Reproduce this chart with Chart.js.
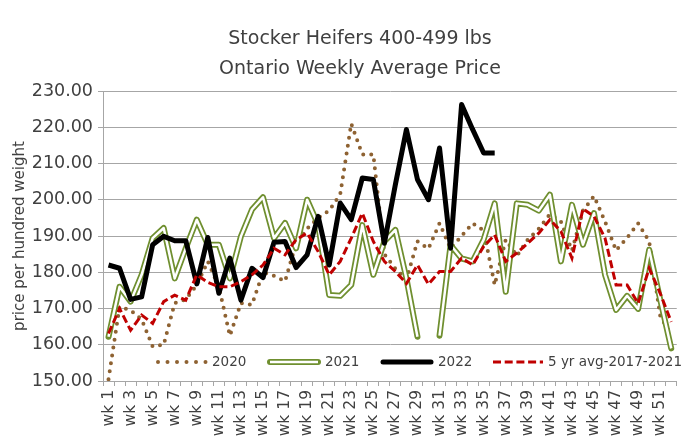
<!DOCTYPE html>
<html>
<head>
<meta charset="utf-8">
<script src="https://cdn.jsdelivr.net/npm/chart.js@4.4.0/dist/chart.umd.min.js"></script>
<style>
  html, body { margin: 0; padding: 0; background: #fff; }
  #chart { display: block; }
</style>
</head>
<body>
<canvas id="chart" width="694" height="447"></canvas>
<script>
// ── data ─────────────────────────────────────────────────────────────────
const weeks = [
  'wk 1', 'wk 2', 'wk 3', 'wk 4', 'wk 5', 'wk 6', 'wk 7', 'wk 8', 'wk 9', 'wk 10',
  'wk 11', 'wk 12', 'wk 13', 'wk 14', 'wk 15', 'wk 16', 'wk 17', 'wk 18', 'wk 19', 'wk 20',
  'wk 21', 'wk 22', 'wk 23', 'wk 24', 'wk 25', 'wk 26', 'wk 27', 'wk 28', 'wk 29', 'wk 30',
  'wk 31', 'wk 32', 'wk 33', 'wk 34', 'wk 35', 'wk 36', 'wk 37', 'wk 38', 'wk 39', 'wk 40',
  'wk 41', 'wk 42', 'wk 43', 'wk 44', 'wk 45', 'wk 46', 'wk 47', 'wk 48', 'wk 49', 'wk 50',
  'wk 51', 'wk 52',
];

const price2020 = [
  150.5, 170.5, 169.5, 167.0, 159.5, 160.0, 171.5, 172.5, 176.5, 183.0,
  176.0, 162.5, 171.5, 171.0, 180.0, 179.0, 177.5, 188.0, 192.0, 195.0,
  197.0, 201.5, 221.0, 212.5, 212.5, 185.0, 181.0, 178.0, 188.5, 186.5,
  193.5, 186.5, 190.0, 193.5, 191.5, 176.5, 189.0, 184.5, 189.0, 192.0,
  196.0, 194.0, 186.0, 197.0, 201.0, 194.0, 186.0, 189.5, 193.5, 188.5,
  168.0, 162.5,
];

const price2021 = [
  162.2, 176.0, 171.9, 179.3, 189.4, 192.2, 178.3, 186.6, 194.5, 187.6,
  187.6, 178.3, 189.9, 197.3, 200.7, 189.4, 193.6, 186.6, 200.0, 193.1,
  173.7, 173.5, 176.5, 193.0, 179.3, 188.5, 191.7, 178.3, 162.2, null,
  162.5, 187.5, 183.8, 183.0, 189.0, 199.0, 174.6, 199.0, 198.6, 197.0,
  201.4, 183.0, 198.6, 187.6, 196.3, 179.3, 169.6, 173.5, 169.9, 186.2,
  172.5, 159.0,
];

const price2022 = [
  182.0, 181.1, 172.5, 173.2, 187.6, 189.9, 188.7, 188.7, 176.8, 189.6,
  174.2, 183.9, 172.3, 181.1, 178.5, 188.3, 188.5, 181.3, 184.8, 195.4,
  182.0, 199.1, 194.5, 206.0, 205.6, 188.0, 204.2, 219.4, 205.6, 200.0,
  214.3, 186.6, 226.3, 219.4, 212.9, 212.9,
];

const avg5yr = [
  163.1, 170.0, 164.0, 168.2, 165.9, 171.9, 173.7, 172.3, 179.3, 177.2,
  176.0, 176.0, 177.4, 179.3, 182.0, 186.6, 184.8, 189.0, 190.8, 185.7,
  179.3, 183.0, 189.4, 196.3, 188.5, 183.0, 180.2, 176.9, 182.0, 176.7,
  180.2, 180.2, 183.9, 182.0, 187.1, 190.3, 183.0, 185.3, 188.0, 190.8,
  194.5, 191.3, 183.9, 197.5, 195.4, 189.4, 176.5, 176.5, 171.4, 181.1,
  174.2, 166.3,
];

const titleLines = ['Stocker Heifers 400-499 lbs', 'Ontario Weekly Average Price'];
const yTitle = 'price per hundred weight';

// ── styles ───────────────────────────────────────────────────────────────
const FONT   = '"DejaVu Sans", sans-serif';
const TEXT   = '#404040';
const GRID   = '#a6a6a6';
const BROWN  = '#8e6232';
const GREEN  = '#6f8f2f';
const RED    = '#c00000';

// title, y axis title and the in-plot legend are drawn by hand
const decorations = {
  id: 'decorations',
  afterDraw(chart) {
    const ctx = chart.ctx;
    ctx.save();
    ctx.fillStyle = TEXT;

    // title
    ctx.font = '19px ' + FONT;
    ctx.textAlign = 'center';
    ctx.textBaseline = 'alphabetic';
    ctx.fillText(titleLines[0], 360, 44);
    ctx.fillText(titleLines[1], 360, 74);

    // y axis title
    const a = chart.chartArea;
    ctx.save();
    ctx.translate(20, (a.top + a.bottom) / 2);
    ctx.rotate(-Math.PI / 2);
    ctx.font = '15px ' + FONT;
    ctx.textBaseline = 'middle';
    ctx.fillText(yTitle, 0, 0);
    ctx.restore();

    // legend
    const ly = 362;
    ctx.lineCap = 'round';
    ctx.lineJoin = 'round';

    ctx.strokeStyle = BROWN; ctx.lineWidth = 4; ctx.setLineDash([0, 9.5]);
    ctx.beginPath(); ctx.moveTo(158, ly); ctx.lineTo(206, ly); ctx.stroke();

    ctx.setLineDash([]);
    ctx.strokeStyle = GREEN; ctx.lineWidth = 6;
    ctx.beginPath(); ctx.moveTo(270, ly); ctx.lineTo(318, ly); ctx.stroke();
    ctx.lineCap = 'butt';
    ctx.strokeStyle = '#fff'; ctx.lineWidth = 2.5;
    ctx.beginPath(); ctx.moveTo(270, ly); ctx.lineTo(318, ly); ctx.stroke();

    ctx.lineCap = 'round';
    ctx.strokeStyle = '#000'; ctx.lineWidth = 5;
    ctx.beginPath(); ctx.moveTo(383, ly); ctx.lineTo(431, ly); ctx.stroke();

    ctx.lineCap = 'butt';
    ctx.strokeStyle = RED; ctx.lineWidth = 3; ctx.setLineDash([8, 3.7]);
    ctx.beginPath(); ctx.moveTo(493, ly); ctx.lineTo(543, ly); ctx.stroke();
    ctx.setLineDash([]);

    ctx.font = '13.5px ' + FONT;
    ctx.textAlign = 'left';
    ctx.textBaseline = 'middle';
    ctx.fillText('2020', 212, ly);
    ctx.fillText('2021', 325, ly);
    ctx.fillText('2022', 438, ly);
    ctx.fillText('5 yr avg-2017-2021', 548, ly);

    ctx.restore();
  },
};

Chart.defaults.font.family = FONT;
Chart.defaults.color = TEXT;

new Chart(document.getElementById('chart'), {
  type: 'line',
  data: {
    labels: weeks,
    datasets: [
      {
        label: '5 yr avg-2017-2021',
        data: avg5yr,
        borderColor: RED,
        borderWidth: 3,
        borderDash: [8, 3.7],
        order: 0,
      },
      {
        label: '2022',
        data: price2022,
        borderColor: '#000',
        borderWidth: 5,
        borderJoinStyle: 'round',
        order: 1,
      },
      {
        label: '2021 inner',
        data: price2021,
        borderColor: '#fff',
        borderWidth: 2.5,
        borderJoinStyle: 'round',
        order: 2,
      },
      {
        label: '2021',
        data: price2021,
        borderColor: GREEN,
        borderWidth: 6,
        borderCapStyle: 'round',
        borderJoinStyle: 'round',
        order: 3,
      },
      {
        label: '2020',
        data: price2020,
        borderColor: BROWN,
        borderWidth: 4,
        borderDash: [0, 8],
        borderCapStyle: 'round',
        order: 4,
      },
    ],
  },
  options: {
    responsive: false,
    animation: false,
    devicePixelRatio: 1,
    spanGaps: false,
    elements: {
      point: { radius: 0, hoverRadius: 0 },
      line: { tension: 0, fill: false },
    },
    layout: { padding: { top: 91, right: 17, left: 0, bottom: 0 } },
    plugins: {
      legend: { display: false },
      title: { display: false },
      tooltip: { enabled: false },
    },
    scales: {
      x: {
        offset: true,
        grid: { offset: true, drawOnChartArea: false, drawTicks: true, tickLength: 5, color: GRID },
        border: { color: GRID, width: 1 },
        ticks: {
          autoSkip: false,
          minRotation: 90,
          maxRotation: 90,
          padding: 4,
          color: TEXT,
          font: { size: 15.5 },
          callback: (v, i) => (i % 2 === 0 ? weeks[i] : ''),
        },
        afterFit: s => { s.height = 66; },
      },
      y: {
        min: 150,
        max: 230,
        grid: { color: GRID, tickLength: 5 },
        border: { color: GRID, width: 1 },
        ticks: {
          stepSize: 10,
          padding: 5,
          color: TEXT,
          font: { size: 17.5 },
          callback: v => v.toFixed(2),
        },
        afterFit: s => { s.width = 103; },
      },
    },
  },
  plugins: [decorations],
});
</script>
</body>
</html>
